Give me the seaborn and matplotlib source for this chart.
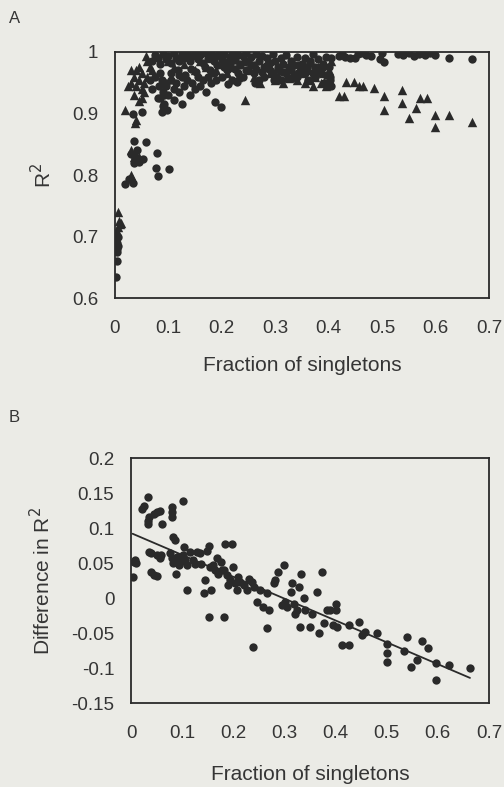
import matplotlib
matplotlib.use('Agg')
import matplotlib.pyplot as plt
import seaborn as sns
import pandas as pd

# ---------------- data ----------------
# Panel A : circles
circ_x = [0.002, 0.003, 0.004, 0.003, 0.005, 0.006, 0.004,
          0.018, 0.027, 0.034,
          0.036, 0.059, 0.031, 0.038, 0.045, 0.052, 0.042, 0.035,
          0.078, 0.077, 0.080, 0.101, 0.034, 0.050,
          0.085, 0.090, 0.095, 0.100, 0.105, 0.110, 0.115, 0.120, 0.125, 0.125,
          0.130, 0.135, 0.140, 0.145, 0.150, 0.155, 0.160, 0.165, 0.170, 0.175,
          0.180, 0.185, 0.190, 0.188, 0.199, 0.200, 0.210, 0.220, 0.230, 0.240,
          0.250, 0.260, 0.270, 0.280, 0.290, 0.300, 0.310, 0.320, 0.330, 0.340,
          0.350, 0.360, 0.370, 0.380, 0.390, 0.092, 0.097, 0.110, 0.120, 0.088,
          0.065, 0.070, 0.075, 0.080, 0.082, 0.085, 0.090, 0.092, 0.095, 0.088,
          0.070, 0.075, 0.080, 0.085, 0.090, 0.095, 0.100, 0.105, 0.110, 0.115,
          0.120, 0.125, 0.130, 0.135, 0.140, 0.145, 0.150, 0.155, 0.160, 0.165,
          0.170, 0.175, 0.180, 0.185, 0.190, 0.195, 0.200, 0.205, 0.210, 0.215,
          0.220, 0.225, 0.230, 0.235, 0.240, 0.245, 0.250, 0.255, 0.260, 0.265,
          0.270, 0.275, 0.280, 0.285, 0.290, 0.295, 0.300, 0.305, 0.310, 0.315,
          0.320, 0.325, 0.330, 0.335, 0.340, 0.345, 0.350, 0.355, 0.360, 0.365,
          0.370, 0.375, 0.380, 0.385, 0.390, 0.395, 0.400, 0.403, 0.405, 0.405,
          0.420, 0.425, 0.430, 0.440, 0.450, 0.455, 0.460, 0.470, 0.480, 0.497,
          0.500, 0.503, 0.530, 0.540, 0.550, 0.560, 0.570, 0.580, 0.590, 0.600,
          0.625, 0.668,
          0.105, 0.118, 0.132, 0.142, 0.152, 0.168, 0.178, 0.192, 0.205, 0.215,
          0.225, 0.235, 0.245, 0.255, 0.265, 0.275, 0.285, 0.295, 0.305, 0.315,
          0.325, 0.335, 0.345, 0.355, 0.365, 0.375, 0.385, 0.395, 0.402, 0.212,
          0.228, 0.262, 0.298, 0.332, 0.362, 0.392]
circ_y = [0.635, 0.660, 0.680, 0.690, 0.685, 0.700, 0.675,
          0.785, 0.793, 0.787,
          0.856, 0.854, 0.835, 0.827, 0.822, 0.826, 0.840, 0.820,
          0.836, 0.811, 0.798, 0.810, 0.900, 0.903,
          0.925, 0.935, 0.945, 0.930, 0.955, 0.940, 0.950, 0.935, 0.916, 0.960,
          0.945, 0.955, 0.930, 0.950, 0.940, 0.960, 0.945, 0.955, 0.935, 0.960,
          0.950, 0.965, 0.955, 0.919, 0.911, 0.960, 0.970, 0.955, 0.965, 0.960,
          0.970, 0.965, 0.955, 0.960, 0.970, 0.960, 0.955, 0.965, 0.970, 0.960,
          0.970, 0.975, 0.965, 0.970, 0.975, 0.915, 0.905, 0.922, 0.963, 0.955,
          0.955, 0.940, 0.960, 0.925, 0.945, 0.965, 0.912, 0.930, 0.950, 0.902,
          0.985, 0.995, 0.990, 0.980, 0.997, 0.988, 0.993, 0.982, 0.998, 0.990,
          0.985, 0.996, 0.990, 0.999, 0.985, 0.993, 0.998, 0.988, 0.995, 0.982,
          0.999, 0.990, 0.996, 0.985, 0.993, 0.999, 0.988, 0.996, 0.983, 0.992,
          0.999, 0.987, 0.995, 0.980, 0.993, 0.998, 0.985, 0.992, 0.978, 0.996,
          0.986, 0.993, 0.975, 0.990, 0.982, 0.997, 0.985, 0.975, 0.990, 0.980,
          0.995, 0.972, 0.985, 0.978, 0.992, 0.968, 0.980, 0.990, 0.972, 0.985,
          0.996, 0.975, 0.988, 0.965, 0.980, 0.992, 0.975, 0.960, 0.990, 0.945,
          0.994, 0.997, 0.992, 0.990, 0.990, 0.996, 0.998, 0.995, 0.993, 0.988,
          0.998, 0.984, 0.997, 0.995, 0.998, 0.994, 0.997, 0.995, 0.998, 0.995,
          0.990, 0.988,
          0.965, 0.970, 0.962, 0.972, 0.968, 0.975, 0.970, 0.978, 0.975, 0.980,
          0.972, 0.978, 0.970, 0.978, 0.972, 0.968, 0.978, 0.965, 0.972, 0.968,
          0.975, 0.962, 0.978, 0.965, 0.982, 0.960, 0.975, 0.962, 0.955, 0.948,
          0.952, 0.950, 0.955, 0.958, 0.955, 0.950]

# Panel A : triangles
tri_x = [0.006, 0.008, 0.005, 0.010, 0.004, 0.012,
         0.019, 0.038, 0.040,
         0.030, 0.035, 0.040, 0.045, 0.030, 0.032,
         0.030, 0.035, 0.040, 0.045, 0.050, 0.035, 0.040, 0.045, 0.050, 0.055,
         0.060, 0.030, 0.025, 0.055, 0.058, 0.060, 0.065, 0.070, 0.045, 0.050,
         0.100, 0.110, 0.120, 0.130, 0.140, 0.150, 0.160, 0.170, 0.180, 0.190,
         0.200, 0.210, 0.220, 0.230, 0.240, 0.250, 0.260, 0.272, 0.280, 0.290,
         0.300, 0.310, 0.320, 0.330, 0.340, 0.350, 0.355, 0.360, 0.370, 0.375,
         0.380, 0.385, 0.390, 0.395, 0.400, 0.400, 0.405, 0.244,
         0.420, 0.428, 0.432, 0.447, 0.456, 0.464, 0.485, 0.503, 0.503, 0.538,
         0.538, 0.550, 0.563, 0.572, 0.585, 0.600, 0.600, 0.625, 0.668,
         0.305, 0.315, 0.325, 0.335, 0.345, 0.365, 0.372, 0.392]
tri_y = [0.740, 0.725, 0.715, 0.720, 0.710, 0.722,
         0.905, 0.885, 0.890,
         0.840, 0.830, 0.835, 0.830, 0.800, 0.795,
         0.950, 0.960, 0.970, 0.955, 0.940, 0.930, 0.945, 0.975, 0.965, 0.950,
         0.960, 0.970, 0.945, 0.935, 0.993, 0.985, 0.975, 0.970, 0.920, 0.925,
         0.985, 0.975, 0.992, 0.980, 0.995, 0.970, 0.985, 0.975, 0.990, 0.970,
         0.980, 0.965, 0.975, 0.960, 0.985, 0.970, 0.960, 0.950, 0.975, 0.965,
         0.955, 0.970, 0.960, 0.975, 0.955, 0.965, 0.950, 0.970, 0.945, 0.960,
         0.975, 0.950, 0.965, 0.945, 0.955, 0.970, 0.985, 0.922,
         0.929, 0.929, 0.951, 0.951, 0.944, 0.944, 0.941, 0.929, 0.905, 0.938,
         0.917, 0.893, 0.909, 0.926, 0.926, 0.898, 0.878, 0.897, 0.886,
         0.962, 0.950, 0.958, 0.962, 0.968, 0.955, 0.962, 0.952]

# Panel B : difference in R^2
diff_x = [0.005, 0.008, 0.003, 0.009,
          0.021, 0.025, 0.034, 0.033, 0.034, 0.035, 0.044, 0.050, 0.056, 0.060,
          0.080, 0.080, 0.081, 0.101,
          0.035, 0.040, 0.050, 0.056, 0.058, 0.039, 0.045, 0.050,
          0.082, 0.086, 0.076, 0.080, 0.083, 0.086, 0.089, 0.088, 0.093, 0.096,
          0.101, 0.104, 0.106, 0.109, 0.110, 0.116, 0.121, 0.125, 0.129, 0.135,
          0.137, 0.142, 0.145, 0.148, 0.152, 0.152, 0.154, 0.156, 0.161, 0.165,
          0.168, 0.171, 0.175, 0.178, 0.181, 0.182, 0.184, 0.187, 0.190, 0.194,
          0.197, 0.200, 0.203, 0.207, 0.210, 0.214, 0.220, 0.227, 0.230, 0.236,
          0.240, 0.238, 0.246, 0.253, 0.259, 0.266, 0.266, 0.269, 0.279, 0.282,
          0.288, 0.295, 0.299, 0.302, 0.305, 0.312, 0.315, 0.318, 0.321, 0.325,
          0.328, 0.331, 0.333, 0.338, 0.341, 0.351, 0.354, 0.364, 0.367, 0.374,
          0.377, 0.383, 0.390, 0.396, 0.400, 0.400, 0.403, 0.413, 0.426, 0.426,
          0.445, 0.452, 0.458, 0.481, 0.500, 0.500, 0.500, 0.534, 0.539, 0.547,
          0.560, 0.569, 0.581, 0.596, 0.597, 0.622, 0.663]
diff_y = [0.052, 0.054, 0.030, 0.050,
          0.128, 0.132, 0.144, 0.111, 0.106, 0.116, 0.120, 0.123, 0.125, 0.106,
          0.130, 0.123, 0.116, 0.139,
          0.066, 0.064, 0.061, 0.057, 0.061, 0.037, 0.033, 0.031,
          0.087, 0.083, 0.064, 0.057, 0.050, 0.054, 0.059, 0.035, 0.047, 0.052,
          0.061, 0.073, 0.054, 0.047, 0.011, 0.066, 0.054, 0.049, 0.066, 0.064,
          0.049, 0.007, 0.026, 0.068, 0.075, -0.027, 0.045, 0.011, 0.047, 0.040,
          0.057, 0.035, 0.052, 0.040, -0.027, 0.040, 0.078, 0.033, 0.019, 0.026,
          0.078, 0.045, 0.021, 0.011, 0.030, 0.023, 0.019, 0.011, 0.028, 0.023,
          0.016, -0.070, -0.005, 0.011, -0.012, 0.007, -0.043, -0.017, 0.021, 0.026,
          0.038, -0.010, 0.047, -0.005, -0.012, 0.009, 0.021, -0.008, -0.022, -0.017,
          0.016, -0.041, 0.035, 0.000, -0.017, -0.041, -0.022, 0.009, -0.050, 0.038,
          -0.036, -0.017, -0.017, -0.038, -0.008, -0.017, -0.041, -0.067, -0.067, -0.038,
          -0.034, -0.053, -0.048, -0.050, -0.065, -0.079, -0.091, -0.076, -0.055, -0.098,
          -0.088, -0.062, -0.072, -0.093, -0.117, -0.095, -0.100]

xticks = [0, 0.1, 0.2, 0.3, 0.4, 0.5, 0.6, 0.7]
xtick_labels = ['0', '0.1', '0.2', '0.3', '0.4', '0.5', '0.6', '0.7']
yticksA = [0.6, 0.7, 0.8, 0.9, 1.0]
ytick_labelsA = ['0.6', '0.7', '0.8', '0.9', '1']
yticksB = [-0.15, -0.1, -0.05, 0, 0.05, 0.1, 0.15, 0.2]
ytick_labelsB = ['-0.15', '-0.1', '-0.05', '0', '0.05', '0.1', '0.15', '0.2']

# ---------------- style ----------------
sns.set_theme(style='white')
plt.rcParams['font.family'] = ['Liberation Sans', 'DejaVu Sans']

BG = '#ebebe6'
INK = '#2a2a2a'
TXT = '#353535'

fig = plt.figure(figsize=(5.04, 7.87), dpi=100, facecolor=BG)
axA = fig.add_axes([0.228, 0.621, 0.742, 0.313], facecolor=BG)
axB = fig.add_axes([0.260, 0.1067, 0.710, 0.311], facecolor=BG)

# Panel A
dfC = pd.DataFrame({'x': circ_x, 'y': circ_y})
dfT = pd.DataFrame({'x': tri_x, 'y': tri_y})
sns.scatterplot(data=dfC, x='x', y='y', marker='o', s=36, color=INK,
                linewidth=0, ax=axA, legend=False)
sns.scatterplot(data=dfT, x='x', y='y', marker='^', s=46, color=INK,
                linewidth=0, ax=axA, legend=False)

# Panel B
dfB = pd.DataFrame({'x': diff_x, 'y': diff_y})
sns.regplot(data=dfB, x='x', y='y', ci=None, ax=axB,
            scatter_kws=dict(s=36, color=INK, linewidths=0, alpha=1),
            line_kws=dict(color=INK, lw=1.3))

for ax, yt, ytl, ylim in [(axA, yticksA, ytick_labelsA, (0.6, 1.0)),
                          (axB, yticksB, ytick_labelsB, (-0.15, 0.2))]:
    ax.set_xlim(0, 0.7)
    ax.set_ylim(*ylim)
    ax.set_xticks(xticks)
    ax.set_xticklabels(xtick_labels)
    ax.set_yticks(yt)
    ax.set_yticklabels(ytl)
    for sp in ax.spines.values():
        sp.set_visible(True)
        sp.set_color(INK)
        sp.set_linewidth(1.3)
    ax.tick_params(axis='both', direction='out', length=6, width=1.2,
                   color=INK, labelcolor=TXT, labelsize=13.5)
    ax.tick_params(axis='x', pad=10)
    ax.tick_params(axis='y', pad=6)
    ax.set_xlabel('Fraction of singletons', fontsize=15, color=TXT)
    ax.xaxis.label.set_va('center')

axA.set_ylabel('R$^2$', fontsize=15, color=TXT)
axB.set_ylabel('Difference in R$^2$', fontsize=15, color=TXT)
for ax in (axA, axB):
    ax.yaxis.label.set_va('center')

axA.xaxis.set_label_coords(0.5, -0.272)
axB.xaxis.set_label_coords(0.5, -0.294)
axA.yaxis.set_label_coords(-0.193, 0.5)
axB.yaxis.set_label_coords(-0.249, 0.5)

fig.text(0.028, 0.977, 'A', fontsize=12, color=TXT, ha='center', va='center')
fig.text(0.028, 0.470, 'B', fontsize=12, color=TXT, ha='center', va='center')

fig.savefig('out.png', dpi=100, facecolor=BG)
